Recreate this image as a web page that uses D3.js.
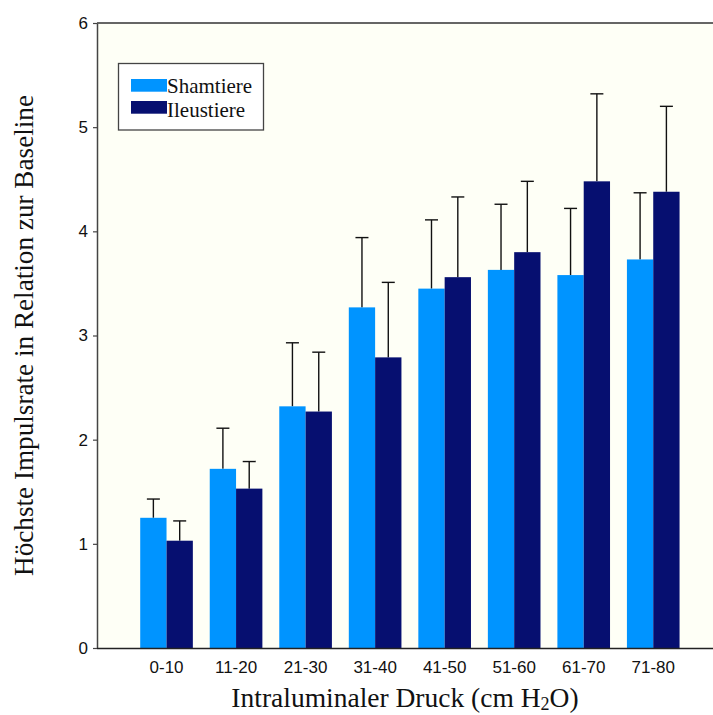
<!DOCTYPE html>
<html>
<head>
<meta charset="utf-8">
<script src="https://cdn.jsdelivr.net/npm/d3@7"></script>
<style>
  body { margin: 0; background: #fff; }
  svg { display: block; }
</style>
</head>
<body>
<div id="chart"></div>
<script>
// pressure groups and the two series (mean + upper error)
const groups = ["0-10", "11-20", "21-30", "31-40", "41-50", "51-60", "61-70", "71-80"];
const seriesNames = ["Shamtiere", "Ileustiere"];
const shamMean = [1.25, 1.72, 2.32, 3.27, 3.45, 3.63, 3.58, 3.73];
const shamErr  = [1.43, 2.11, 2.93, 3.94, 4.11, 4.26, 4.22, 4.37];
const ileusMean = [1.03, 1.53, 2.27, 2.79, 3.56, 3.80, 4.48, 4.38];
const ileusErr  = [1.22, 1.79, 2.84, 3.51, 4.33, 4.48, 5.32, 5.20];
const yTicks = [0, 1, 2, 3, 4, 5, 6];

const colors = ["#0094ff", "#060f70"];

width = 713;
height = 715;
margin = ({top: 23, right: 0, bottom: 67, left: 97});

const svg = d3.select("#chart").append("svg")
    .attr("width", width).attr("height", height);

// plot background
const step = 69.53;
svg.append("rect")
    .attr("x", margin.left).attr("y", margin.top)
    .attr("width", width - margin.left).attr("height", height - margin.bottom - margin.top)
    .attr("fill", "#fefff6");

let x = d3.scaleBand()
    .domain(groups)
    .range([margin.left + step * 0.5, margin.left + step * 8.5])
    .paddingInner(0.243)
    .paddingOuter(0.1215);
let xSub = d3.scaleBand()
    .domain(seriesNames)
    .range([0, x.bandwidth()]);
let y = d3.scaleLinear()
    .domain([0, 6])
    .range([height - margin.bottom, margin.top]);

// build rows from the arrays
const rows = [];
groups.forEach((g, i) => {
  rows.push({g: g, s: seriesNames[0], v: shamMean[i], e: shamErr[i]});
  rows.push({g: g, s: seriesNames[1], v: ileusMean[i], e: ileusErr[i]});
});

// error bars (drawn first so the bar covers the lower stem)
const eb = svg.append("g").attr("stroke", "#111").attr("stroke-width", 1.4);
eb.selectAll("line.stem").data(rows).enter().append("line")
    .attr("class", "stem")
    .attr("x1", d => x(d.g) + xSub(d.s) + xSub.bandwidth() / 2)
    .attr("x2", d => x(d.g) + xSub(d.s) + xSub.bandwidth() / 2)
    .attr("y1", d => y(d.v))
    .attr("y2", d => y(d.e));
eb.selectAll("line.cap").data(rows).enter().append("line")
    .attr("class", "cap")
    .attr("x1", d => x(d.g) + xSub(d.s) + xSub.bandwidth() / 2 - 6.5)
    .attr("x2", d => x(d.g) + xSub(d.s) + xSub.bandwidth() / 2 + 6.5)
    .attr("y1", d => y(d.e))
    .attr("y2", d => y(d.e));

// bars
svg.append("g").selectAll("rect").data(rows).enter().append("rect")
    .attr("x", d => x(d.g) + xSub(d.s))
    .attr("y", d => y(d.v))
    .attr("width", xSub.bandwidth())
    .attr("height", d => y(0) - y(d.v))
    .attr("fill", d => colors[seriesNames.indexOf(d.s)]);

// top frame line
svg.append("line")
    .attr("x1", margin.left).attr("x2", width)
    .attr("y1", margin.top).attr("y2", margin.top)
    .attr("stroke", "#333").attr("stroke-width", 1.5);

// axes
const yAxis = svg.append("g")
    .attr("transform", `translate(${margin.left},0)`)
    .call(d3.axisLeft(y).tickValues(yTicks).tickFormat(d3.format("d")).tickSize(4).tickPadding(5).tickSizeOuter(0));
yAxis.select(".domain").attr("stroke", "#444").attr("stroke-width", 1.5);
yAxis.selectAll(".tick line").attr("stroke", "#444").attr("stroke-width", 1.2);
yAxis.selectAll("text")
    .attr("font-family", "'Liberation Sans', Arial, sans-serif")
    .attr("font-size", 17).attr("fill", "#111");

const xAxis = svg.append("g")
    .attr("transform", `translate(0,${y(0)})`)
    .call(d3.axisBottom(x).tickSize(0).tickPadding(13));
xAxis.select(".domain").attr("d", `M${margin.left},0.5H${width}`).attr("stroke", "#222").attr("stroke-width", 1.5);
xAxis.selectAll("text")
    .attr("font-family", "'Liberation Sans', Arial, sans-serif")
    .attr("font-size", 17).attr("fill", "#111");

// axis titles
const serif = "'Liberation Serif', 'Times New Roman', serif";
const xt = svg.append("text")
    .attr("x", (margin.left + width) / 2)
    .attr("y", 707)
    .attr("text-anchor", "middle")
    .attr("font-family", serif).attr("font-size", 27.5).attr("fill", "#111");
xt.append("tspan").text("Intraluminaler Druck (cm H");
xt.append("tspan").attr("font-size", 18).attr("dy", 3).text("2");
xt.append("tspan").attr("dy", -3).text("O)");

svg.append("text")
    .attr("transform", `translate(33,${(y(0) + y(6)) / 2}) rotate(-90)`)
    .attr("text-anchor", "middle")
    .attr("font-family", serif).attr("font-size", 27.2).attr("fill", "#111")
    .text("Höchste Impulsrate in Relation zur Baseline");

// legend
const lg = svg.append("g");
lg.append("rect")
    .attr("x", 118.5).attr("y", 63.5).attr("width", 145).attr("height", 66.5)
    .attr("fill", "#fff").attr("stroke", "#444").attr("stroke-width", 1.3);
seriesNames.forEach((s, i) => {
  lg.append("rect")
      .attr("x", 131).attr("y", 79 + i * 22).attr("width", 36).attr("height", 12.7)
      .attr("fill", colors[i]);
  lg.append("text")
      .attr("x", 167).attr("y", 92.5 + i * 24.5)
      .attr("font-family", serif).attr("font-size", 21).attr("fill", "#111")
      .text(s);
});
</script>
</body>
</html>
